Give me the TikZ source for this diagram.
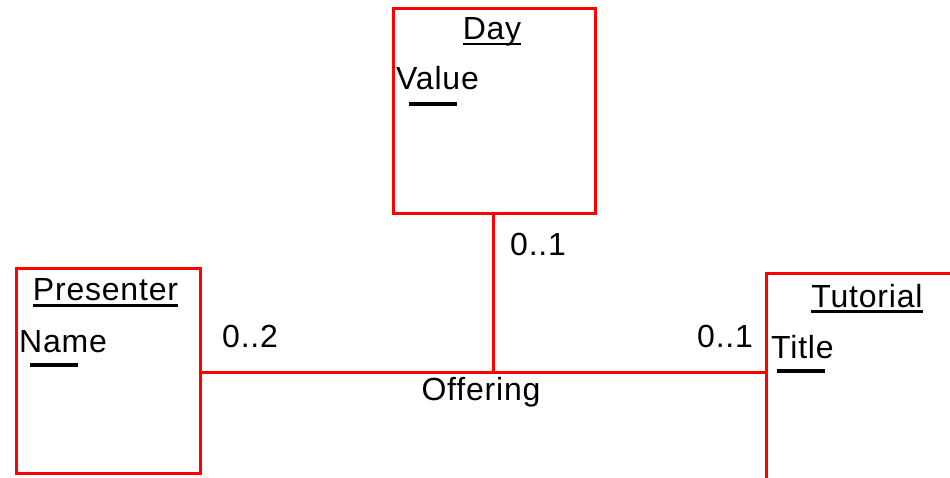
\documentclass[tikz,border=0pt]{standalone}
\usepackage{fontspec}
\setmainfont{Liberation Sans}[LetterSpace=2.5]
\begin{document}
\begin{tikzpicture}[x=1pt,y=-1pt,
  entity/.style={draw=red, line width=2.8pt, inner sep=0pt, anchor=north west},
  link/.style={draw=red, line width=3pt},
  txt/.style={font=\fontsize{32}{36}\selectfont, inner sep=0pt},
  uline/.style={line width=2.6pt},
  keybar/.style={line width=4pt}]
\useasboundingbox (0,0) rectangle (950,478);

% entity boxes
\node[entity, minimum width=202pt, minimum height=205pt] (day) at (392,7) {};
\node[entity, minimum width=184pt, minimum height=205pt] (presenter) at (15,267) {};
\draw[link] (960,274) coordinate (tutNE) -- (766,274) coordinate (tutNW)
  -- (766,488) coordinate (tutSW);
\coordinate (tutorial) at (766,372);

% entity titles with underlines
\node[txt, anchor=base] (dayT) at (492,40) {Day};
\draw[uline] ([yshift=-4pt]dayT.base west) -- ([yshift=-4pt]dayT.base east);
\node[txt, anchor=base] (presT) at (105.5,301) {Presenter};
\draw[uline] ([yshift=-4.5pt]presT.base west) -- ([yshift=-4.5pt]presT.base east);
\node[txt, anchor=base] (tutT) at (867,307) {Tutorial};
\draw[uline] ([yshift=-4.5pt]tutT.base west) -- ([yshift=-4.5pt]tutT.base east);

% attributes with key bars
\node[txt, anchor=base west] (value) at (396,90) {Value};
\draw[keybar] (409,104) -- (457,104);
\node[txt, anchor=base west] (name) at (19,352) {Name};
\draw[keybar] (30,365) -- (78,365);
\node[txt, anchor=base west] (title) at (771,358) {Title};
\draw[keybar] (777,371) -- (825,371);

% ternary association
\coordinate (hub) at (493,372);
\draw[link] (presenter.east |- hub) -- (tutorial);
\draw[link] (day.south -| hub) -- (hub);

% multiplicities and association name
\node[txt, anchor=base west] (mDay) at (510,256) {0..1};
\node[txt, anchor=base west] (mPres) at (222,347) {0..2};
\node[txt, anchor=base west] (mTut) at (697,347) {0..1};
\node[txt, anchor=base] (assoc) at (481,400) {Offering};
\end{tikzpicture}
\end{document}
